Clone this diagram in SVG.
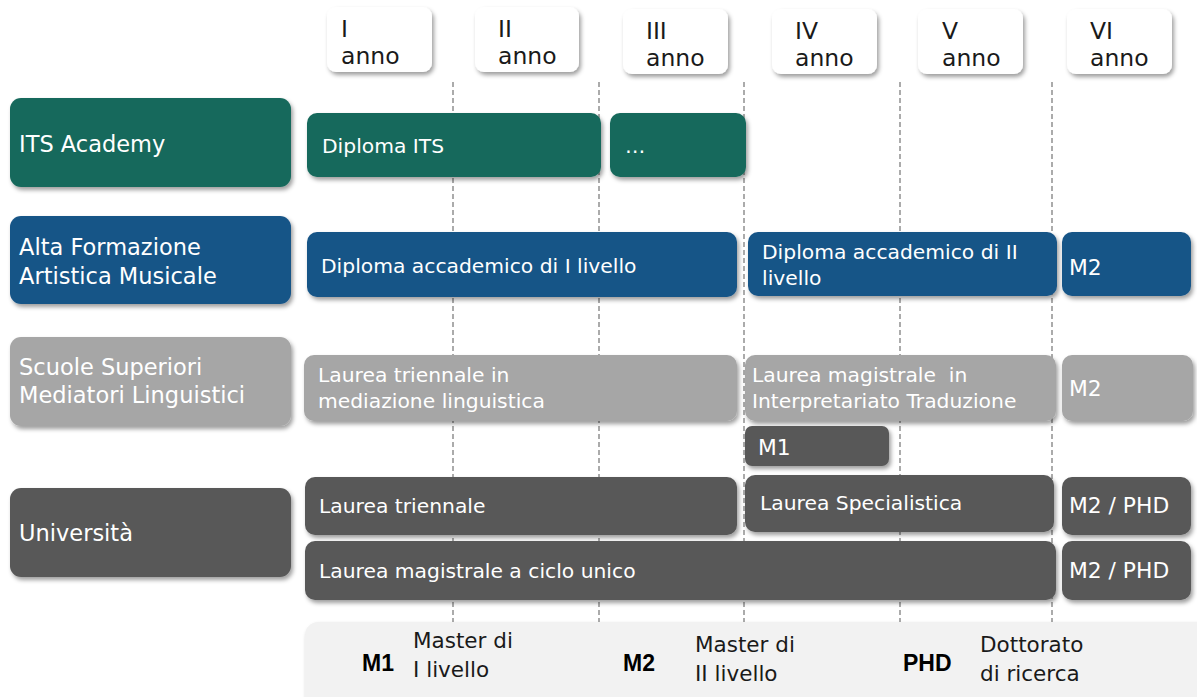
<svg xmlns="http://www.w3.org/2000/svg" width="1197" height="697" viewBox="0 0 1197 697">
<style>
text{font-family:"DejaVu Sans","Liberation Sans",sans-serif;}
.w{fill:#ffffff;}
.k{fill:#1a1a1a;}
.hd{font-size:23.5px;}
.lbl{font-size:22.5px;}
.bx{font-size:20.3px;}
.sm{font-size:21.8px;}
.lg{font-size:21.5px;}
.b{font-family:"Liberation Sans",Arial,sans-serif;font-weight:bold;font-size:23px;fill:#000;}
.teal{fill:#17695b;}
.blue{fill:#185487;}
.lgray{fill:#a6a6a6;}
.dgray{fill:#595959;}
.grid{stroke:#7f7f7f;stroke-width:1.3;stroke-dasharray:5,3;fill:none;}
</style>
<defs>
<filter id="sh" x="-10%" y="-20%" width="125%" height="150%">
<feDropShadow dx="2" dy="3" stdDeviation="2.2" flood-color="#000" flood-opacity="0.38"/>
</filter>
</defs>
<rect width="1197" height="697" fill="#ffffff"/>

<g id="gridlines">
<line class="grid" x1="453" y1="82" x2="453" y2="622"/>
<line class="grid" x1="599" y1="82" x2="599" y2="622"/>
<line class="grid" x1="744" y1="82" x2="744" y2="622"/>
<line class="grid" x1="900" y1="82" x2="900" y2="622"/>
<line class="grid" x1="1052" y1="82" x2="1052" y2="622"/>
</g>

<g id="year-1"><rect x="327" y="7" width="105" height="65" rx="9" fill="#fff" filter="url(#sh)"/><text class="hd k" x="341" y="37">I</text><text class="hd k" x="341" y="64">anno</text></g>
<g id="year-2"><rect x="475" y="7" width="104" height="65" rx="9" fill="#fff" filter="url(#sh)"/><text class="hd k" x="498" y="37">II</text><text class="hd k" x="498" y="64">anno</text></g>
<g id="year-3"><rect x="623" y="9" width="105" height="65" rx="9" fill="#fff" filter="url(#sh)"/><text class="hd k" x="646" y="39">III</text><text class="hd k" x="646" y="66">anno</text></g>
<g id="year-4"><rect x="772" y="9" width="105" height="65" rx="9" fill="#fff" filter="url(#sh)"/><text class="hd k" x="795" y="39">IV</text><text class="hd k" x="795" y="66">anno</text></g>
<g id="year-5"><rect x="918" y="9" width="105" height="65" rx="9" fill="#fff" filter="url(#sh)"/><text class="hd k" x="942" y="39">V</text><text class="hd k" x="942" y="66">anno</text></g>
<g id="year-6"><rect x="1067" y="9" width="105" height="65" rx="9" fill="#fff" filter="url(#sh)"/><text class="hd k" x="1090" y="39">VI</text><text class="hd k" x="1090" y="66">anno</text></g>

<g id="its-academy"><rect class="teal" x="10" y="98" width="281" height="89" rx="11" filter="url(#sh)"/><text class="lbl w" x="19" y="152">ITS Academy</text></g>
<g id="diploma-its"><rect class="teal" x="307" y="113" width="294" height="64" rx="10" filter="url(#sh)"/><text class="bx w" x="322" y="153">Diploma ITS</text></g>
<g id="its-more"><rect class="teal" x="610" y="113" width="136" height="64" rx="10" filter="url(#sh)"/><text class="bx w" x="625" y="153">…</text></g>

<g id="afam"><rect class="blue" x="10" y="216" width="281" height="88" rx="11" filter="url(#sh)"/><text class="lbl w" x="19" y="255">Alta Formazione</text><text class="lbl w" x="19" y="284">Artistica Musicale</text></g>
<g id="diploma-acc-1"><rect class="blue" x="307" y="232" width="430" height="65" rx="10" filter="url(#sh)"/><text class="bx w" x="321" y="273">Diploma accademico di I livello</text></g>
<g id="diploma-acc-2"><rect class="blue" x="748" y="232" width="309" height="64" rx="10" filter="url(#sh)"/><text class="bx w" x="762" y="259">Diploma accademico di II</text><text class="bx w" x="762" y="285">livello</text></g>
<g id="afam-m2"><rect class="blue" x="1062" y="232" width="129" height="64" rx="10" filter="url(#sh)"/><text class="sm w" x="1069" y="275">M2</text></g>

<g id="ssml"><rect class="lgray" x="10" y="337" width="281" height="89" rx="11" filter="url(#sh)"/><text class="lbl w" x="19" y="375">Scuole Superiori</text><text class="lbl w" x="19" y="403">Mediatori Linguistici</text></g>
<g id="laurea-med"><rect class="lgray" x="304" y="355" width="433" height="66" rx="10" filter="url(#sh)"/><text class="bx w" x="318" y="382">Laurea triennale in</text><text class="bx w" x="318" y="408">mediazione linguistica</text></g>
<g id="laurea-interp"><rect class="lgray" x="745" y="355" width="311" height="66" rx="10" filter="url(#sh)"/><text class="bx w" x="752" y="382" xml:space="preserve">Laurea magistrale  in</text><text class="bx w" x="752" y="408">Interpretariato Traduzione</text></g>
<g id="ssml-m2"><rect class="lgray" x="1062" y="355" width="131" height="66" rx="10" filter="url(#sh)"/><text class="sm w" x="1069" y="396">M2</text></g>
<g id="ssml-m1"><rect class="dgray" x="745" y="426" width="144" height="40" rx="7" filter="url(#sh)"/><text class="sm w" x="758" y="455">M1</text></g>

<g id="universita"><rect class="dgray" x="10" y="488" width="281" height="89" rx="11" filter="url(#sh)"/><text class="lbl w" x="19" y="541">Università</text></g>
<g id="laurea-triennale"><rect class="dgray" x="305" y="477" width="432" height="58" rx="10" filter="url(#sh)"/><text class="bx w" x="319" y="513">Laurea triennale</text></g>
<g id="laurea-spec"><rect class="dgray" x="745" y="475" width="309" height="57" rx="10" filter="url(#sh)"/><text class="bx w" x="760" y="510">Laurea Specialistica</text></g>
<g id="uni-m2phd-1"><rect class="dgray" x="1062" y="477" width="129" height="58" rx="10" filter="url(#sh)"/><text class="sm w" x="1069" y="513">M2 / PHD</text></g>
<g id="laurea-ciclo-unico"><rect class="dgray" x="305" y="541" width="751" height="59" rx="10" filter="url(#sh)"/><text class="bx w" x="319" y="578">Laurea magistrale a ciclo unico</text></g>
<g id="uni-m2phd-2"><rect class="dgray" x="1062" y="541" width="129" height="59" rx="10" filter="url(#sh)"/><text class="sm w" x="1069" y="578">M2 / PHD</text></g>

<g id="legend">
<rect x="305" y="622" width="905" height="90" rx="13" fill="#f2f2f2" filter="url(#sh)"/>
<text class="b" x="362" y="671">M1</text>
<text class="lg k" x="413" y="648">Master di</text><text class="lg k" x="413" y="677">I livello</text>
<text class="b" x="623" y="671">M2</text>
<text class="lg k" x="695" y="652">Master di</text><text class="lg k" x="695" y="681">II livello</text>
<text class="b" x="903" y="671">PHD</text>
<text class="lg k" x="980" y="652">Dottorato</text><text class="lg k" x="980" y="681">di ricerca</text>
</g>
</svg>
